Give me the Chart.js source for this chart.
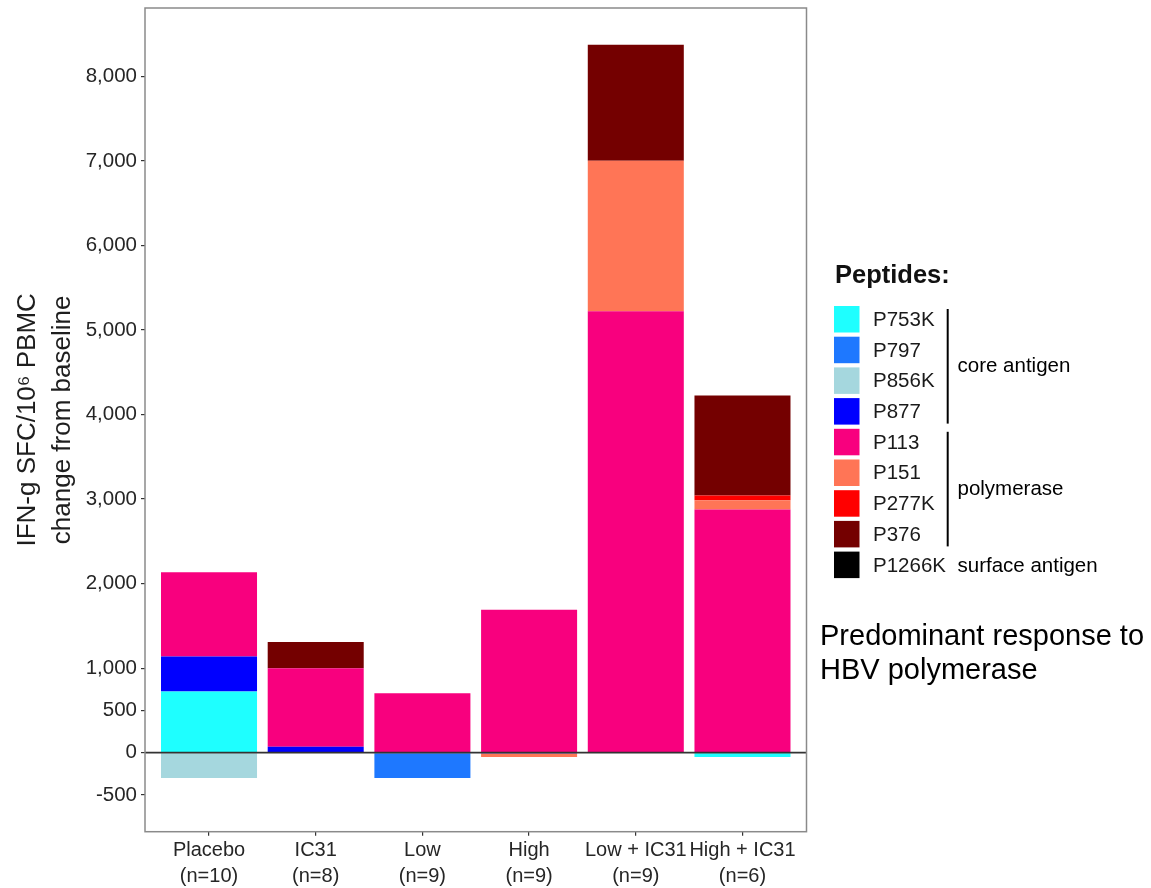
<!DOCTYPE html>
<html>
<head>
<meta charset="utf-8">
<script src="https://cdn.jsdelivr.net/npm/chart.js@4.4.1/dist/chart.umd.min.js"></script>
<style>
  html, body { margin: 0; padding: 0; background: #ffffff; }
  canvas { display: block; }
</style>
</head>
<body>
<canvas id="chart" width="1151" height="888" style="width:1151px;height:888px"></canvas>
<script>
// Treatment groups and their sizes
const groups = ['Placebo', 'IC31', 'Low', 'High', 'Low + IC31', 'High + IC31'];
const groupSizes = [10, 8, 9, 9, 9, 6];

// y axis tick values
const yTickValues = [-500, 0, 500, 1000, 2000, 3000, 4000, 5000, 6000, 7000, 8000];

// IFN-g SFC/10^6 PBMC change from baseline, per peptide, one value per group
const p753k  = [723,    0,    0,     0,    0,  -50];
const p797   = [0,      0, -300,     0,    0,    0];
const p856k  = [-300,   0,    0,     0,    0,    0];
const p877   = [414,   71,    0,   -10,    0,    0];
const p113   = [996,  929,  704,  1691, 5222, 2876];
const p151   = [0,      0,    0,   -40, 1780,  110];
const p277k  = [0,      0,    0,     0,    0,   55];
const p376   = [0,    308,    0,     0, 1371, 1185];
const p1266k = [0,      0,    0,     0,    0,    0];

const peptideNames  = ['P753K', 'P797', 'P856K', 'P877', 'P113', 'P151', 'P277K', 'P376', 'P1266K'];
const peptideValues = [p753k, p797, p856k, p877, p113, p151, p277k, p376, p1266k];
const peptideColors = ['#1EFFFF', '#1E78FF', '#A5D7DE', '#0000FF', '#F8007E', '#FF7556', '#FF0000', '#740000', '#000000'];

// antigen each peptide belongs to (index ranges into peptideNames)
const antigenNames = ['core antigen', 'polymerase', 'surface antigen'];
const antigenFirst = [0, 4, 8];
const antigenLast  = [3, 7, 8];

const FONT = '"Liberation Sans", Arial, Helvetica, sans-serif';
const TEXT = '#262626';

const datasets = peptideNames.map((name, k) => ({
  label: name,
  data: peptideValues[k].map((v, i) => ({ x: i, y: v })),
  backgroundColor: peptideColors[k],
  borderWidth: 0,
  categoryPercentage: 1.0,
  barPercentage: 0.9
}));

// panel box, zero reference line
const panelPlugin = {
  id: 'panel',
  afterDatasetsDraw(chart) {
    const { ctx, chartArea: a, scales } = chart;
    const y0 = scales.y.getPixelForValue(0);
    ctx.save();
    ctx.strokeStyle = '#333333';
    ctx.lineWidth = 1.7;
    ctx.beginPath();
    ctx.moveTo(a.left, y0);
    ctx.lineTo(a.right, y0);
    ctx.stroke();
    ctx.strokeStyle = '#8a8a8a';
    ctx.lineWidth = 1.5;
    ctx.strokeRect(a.left, a.top, a.right - a.left, a.bottom - a.top);
    ctx.restore();
  }
};

// peptide legend with antigen brackets, plus the side note
const sideLegendPlugin = {
  id: 'sideLegend',
  afterDraw(chart) {
    const ctx = chart.ctx;
    ctx.save();
    ctx.textBaseline = 'alphabetic';
    ctx.textAlign = 'left';
    ctx.fillStyle = '#111111';
    ctx.font = 'bold 25.5px ' + FONT;
    ctx.fillText('Peptides:', 835, 283);

    const x0 = 834, top0 = 306, pitch = 30.7, sw = 25.5, sh = 26.5;
    ctx.font = '20.5px ' + FONT;
    ctx.textBaseline = 'middle';
    chart.data.datasets.forEach((ds, k) => {
      const top = top0 + k * pitch;
      ctx.fillStyle = ds.backgroundColor;
      ctx.fillRect(x0, top, sw, sh);
      ctx.fillStyle = '#1a1a1a';
      ctx.fillText(ds.label, 873, top + sh / 2 + 1);
    });

    ctx.strokeStyle = '#000000';
    ctx.lineWidth = 2;
    ctx.fillStyle = '#000000';
    antigenNames.forEach((name, g) => {
      const yTop = top0 + antigenFirst[g] * pitch;
      const yBot = top0 + antigenLast[g] * pitch + sh;
      if (antigenLast[g] > antigenFirst[g]) {
        ctx.beginPath();
        ctx.moveTo(947.7, yTop + 3);
        ctx.lineTo(947.7, yBot - 1);
        ctx.stroke();
      }
      ctx.fillText(name, 957.5, (yTop + yBot) / 2 + 1);
    });

    ctx.textBaseline = 'alphabetic';
    ctx.font = '29px ' + FONT;
    ctx.fillStyle = '#000000';
    ctx.fillText('Predominant response to', 820, 645);
    ctx.fillText('HBV polymerase', 820, 679);
    ctx.restore();
  }
};

new Chart(document.getElementById('chart'), {
  type: 'bar',
  data: { datasets },
  options: {
    responsive: false,
    devicePixelRatio: 1,
    animation: false,
    layout: { padding: { top: 8, right: 344.5, bottom: 0, left: 0 } },
    plugins: {
      legend: { display: false },
      tooltip: { enabled: false }
    },
    scales: {
      x: {
        type: 'linear',
        stacked: true,
        offset: false,
        min: -0.6,
        max: 5.6,
        afterBuildTicks(axis) { axis.ticks = groups.map((g, i) => ({ value: i })); },
        afterFit(axis) {
          axis.height = 56.3;
          axis.paddingLeft = 0;
          axis.paddingRight = 0;
        },
        grid: { display: true, offset: false, drawOnChartArea: false, drawTicks: true, tickLength: 4, color: '#333333', lineWidth: 1.2 },
        border: { display: false },
        ticks: {
          autoSkip: false,
          maxRotation: 0,
          minRotation: 0,
          padding: 1,
          color: TEXT,
          font: { family: FONT, size: 20, lineHeight: 1.33 },
          callback: (v) => [groups[v], '(n=' + groupSizes[v] + ')']
        }
      },
      y: {
        stacked: true,
        min: -935,
        max: 8809,
        afterBuildTicks(axis) { axis.ticks = yTickValues.map(v => ({ value: v })); },
        afterFit(axis) {
          axis.width = 145;
          axis.paddingTop = 0;
          axis.paddingBottom = 0;
        },
        grid: { display: true, drawOnChartArea: false, drawTicks: true, tickLength: 4, color: '#333333', lineWidth: 1.2 },
        border: { display: false },
        ticks: {
          autoSkip: false,
          padding: 4,
          color: TEXT,
          font: { family: FONT, size: 20.5 },
          callback: (v) => v.toLocaleString('en-US')
        },
        title: {
          display: true,
          text: ['IFN-g SFC/10\u2076 PBMC', 'change from baseline'],
          color: '#1e1e1e',
          font: { family: FONT, size: 26, lineHeight: 1.36 },
          padding: { top: 10, bottom: 0 }
        }
      }
    }
  },
  plugins: [panelPlugin, sideLegendPlugin]
});
</script>
</body>
</html>
